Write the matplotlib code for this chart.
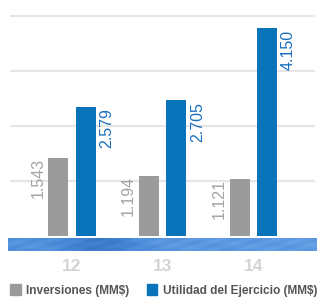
import numpy as np
import matplotlib
matplotlib.use('Agg')
import matplotlib.pyplot as plt
from matplotlib.patches import Patch
from matplotlib.colors import LinearSegmentedColormap

plt.rcParams['font.family'] = ['Liberation Sans', 'DejaVu Sans']

# datos
years = ['12', '13', '14']
inversiones = [1543, 1194, 1121]
utilidad = [2579, 2705, 4150]
inv_labels = ['1.543', '1.194', '1.121']
util_labels = ['2.579', '2.705', '4.150']

gray = '#9b9b9b'
blue = '#0a74bb'

W, H = 318, 297
fig = plt.figure(figsize=(W / 100, H / 100), dpi=100)

# ejes principales (en pixeles de figura)
left, right, bottom, top = 10, 315, 235.5, 5
ax = fig.add_axes([left / W, 1 - bottom / H, (right - left) / W, (bottom - top) / H])

x = np.arange(len(years))
width = 0.22
off = 0.1515

ax.bar(x - off, inversiones, width, color=gray, zorder=3)
ax.bar(x + off, utilidad, width, color=blue, zorder=3)

ax.set_xlim(-0.683, 2.678)
ax.set_ylim(0, 4610)
ax.set_yticks([1100, 2200, 3300, 4400])
ax.yaxis.grid(True, color='#e6e6e6', linewidth=1.6, zorder=0)
ax.tick_params(axis='y', left=False, labelleft=False)
ax.set_xticks(x, years)
ax.tick_params(axis='x', bottom=False, pad=13.5, labelsize=12.5,
               labelcolor='#d4d4d4')
for t in ax.get_xticklabels():
    t.set_fontweight('bold')
for s in ax.spines.values():
    s.set_visible(False)

# etiquetas de valores
for i in range(len(years)):
    ax.annotate(inv_labels[i], (x[i] - off - width / 2, inversiones[i]),
                xytext=(-2, 0), textcoords='offset points', rotation=90,
                ha='right', va='top', fontsize=11.5, color='#a3a3a3')
    ax.annotate(util_labels[i], (x[i] + off + width / 2, utilidad[i]),
                xytext=(2.5, -1), textcoords='offset points', rotation=90,
                ha='left', va='top', fontsize=11.5, color='#1a6fbf')

# banda azul con textura
bx = fig.add_axes([8 / W, 1 - 251 / H, 309 / W, 13 / H])
xx = np.linspace(0, 1, 300)
yy = np.linspace(0, 1, 13)
X, Y = np.meshgrid(xx, yy)
base = 0.5 + 0.2 * np.exp(-((X - 0.3) / 0.12) ** 2) - 0.08 * X
tex = 0.03 * np.sin(70 * X + 9 * Y) + 0.02 * np.sin(27 * X - 6 * Y)
band = np.clip(base + tex, 0, 1)
cmap = LinearSegmentedColormap.from_list('b', ['#74aceb', '#4687d6', '#2c68b3'])
bx.imshow(band, aspect='auto', cmap=cmap, vmin=0.3, vmax=0.85)
bx.set_axis_off()

# leyenda
handles = [Patch(color=gray, label='Inversiones (MM$)'),
           Patch(color=blue, label='Utilidad del Ejercicio (MM$)')]
fig.legend(handles=handles, loc='center', bbox_to_anchor=(0.515, 1 - 290.5 / H),
           ncol=2, frameon=False, handlelength=0.85, handleheight=0.95,
           handletextpad=0.45, columnspacing=1.5, borderaxespad=0,
           prop={'size': 8.6, 'weight': 'bold'}, labelcolor='#555555')

fig.savefig('out.png', dpi=100)
